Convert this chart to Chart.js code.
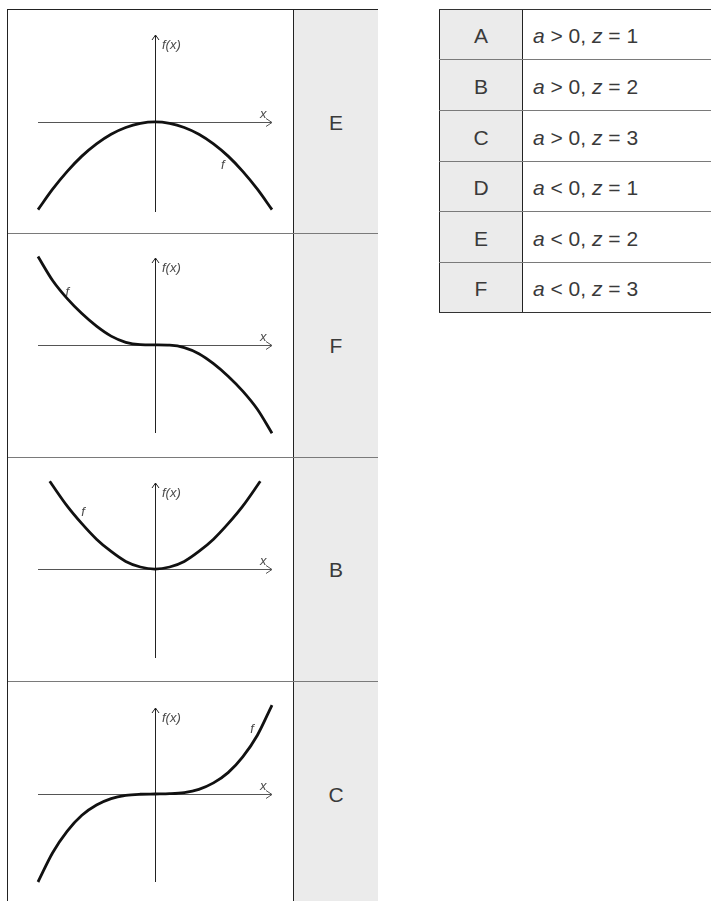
<!DOCTYPE html>
<html>
<head>
<meta charset="utf-8">
<script src="https://cdn.jsdelivr.net/npm/chart.js@4.4.1/dist/chart.umd.min.js"></script>
<style>
  html, body { margin: 0; padding: 0; background: #fff; }
  body { width: 711px; height: 901px; position: relative; overflow: hidden; font-family: "Liberation Sans", Arial, sans-serif; color: #3a3a3a; }
  .abs { position: absolute; }
  #lt { left: 7px; top: 9px; width: 369px; height: 1000px; border: 1px solid #222; }
  #ltGray { left: 293px; top: 10px; width: 84px; height: 900px; background: #ebebeb; border-left: 1px solid #222; }
  .hline { height: 1px; background: #7a7a7a; }
  .letter { font-size: 21px; line-height: 21px; transform: translate(-50%, -50%); white-space: nowrap; }
  #rtGray { left: 439px; top: 9px; width: 82px; height: 303px; background: #ebebeb; border-left: 1px solid #222; border-right: 1px solid #222; }
  .cond { font-size: 21px; line-height: 21px; transform: translateY(-50%); white-space: nowrap; }
  .cond i { font-style: italic; }
  canvas { position: absolute; }
</style>
</head>
<body>
<div id="lt" class="abs"></div>
<div id="ltGray" class="abs"></div>
<div id="rtGray" class="abs"></div>
<div id="layer"></div>

<script>
// Werte (1 Einheit = eine Achseneinteilung von ca. 29 px)
var xFull = [-4, -3.5, -3, -2.5, -2, -1.5, -1, -0.5, 0, 0.5, 1, 1.5, 2, 2.5, 3, 3.5, 4];
var yE = [-3, -2.3, -1.69, -1.17, -0.75, -0.42, -0.19, -0.05, 0, -0.05, -0.19, -0.42, -0.75, -1.17, -1.69, -2.3, -3];
var yF = [3.02, 2.2, 1.58, 1.07, 0.64, 0.3, 0.09, 0.01, 0, -0.01, -0.09, -0.3, -0.64, -1.07, -1.58, -2.2, -3.02];
var xB = [-3.6, -3, -2.5, -2, -1.5, -1, -0.5, 0, 0.5, 1, 1.5, 2, 2.5, 3, 3.6];
var yB = [3.0, 2.15, 1.55, 1.02, 0.6, 0.26, 0.07, 0, 0.07, 0.26, 0.6, 1.02, 1.55, 2.15, 3.0];
var yC = [-3.01, -2.01, -1.27, -0.73, -0.38, -0.16, -0.05, -0.01, 0, 0.01, 0.05, 0.16, 0.38, 0.73, 1.27, 2.01, 3.04];

// Zuordnung Graph -> Buchstabe
var panelLetters = ["E", "F", "B", "C"];
var panelX = [xFull, xFull, xB, xFull];
var panelY = [yE, yF, yB, yC];
// Achsenbereich der y-Achse je Graph
var yMins = [-3.08, -3.01, -3.04, -3.01];
var yMaxs = [2.97, 2.97, 2.94, 2.94];
// Lage der Beschriftung "f" (in Achseneinheiten)
var fLabelX = [2.32, -3.0, -2.46, 3.32];
var fLabelY = [-1.47, 1.81, 1.95, 2.22];

// Tabelle rechts
var rightLetters = ["A", "B", "C", "D", "E", "F"];
var signs = [">", ">", ">", "<", "<", "<"];
var zValues = [1, 2, 3, 1, 2, 3];

// Layout
var rowTops = [10, 234, 458, 682];
var rowLines = [233, 457, 681];
var rowCenters = [122, 345, 569, 794];
var canvasHeights = [222, 222, 222, 219];
var padTops = [25, 24, 25, 26];
var padBottoms = [20, 23, 22, 19];
var rtLines = [9, 59, 110, 161, 211, 262, 312];

var layer = document.getElementById("layer");

function addDiv(cls, css, html) {
    var d = document.createElement("div");
    d.className = "abs " + cls;
    d.style.cssText = css;
    if (html) d.innerHTML = html;
    layer.appendChild(d);
    return d;
}

// Linien der linken Tabelle
rowLines.forEach(function(y) {
    addDiv("hline", "left:8px;top:" + y + "px;width:370px;");
});

// Linien der rechten Tabelle
rtLines.forEach(function(y, i) {
    var col = (i === 0 || i === rtLines.length - 1) ? "#333" : "#7a7a7a";
    addDiv("hline", "left:439px;top:" + y + "px;width:272px;background:" + col + ";");
});

// Buchstaben links
panelLetters.forEach(function(l, i) {
    addDiv("letter", "left:336px;top:" + rowCenters[i] + "px;", l);
});

// rechte Tabelle: Buchstabe und Bedingung
rightLetters.forEach(function(l, i) {
    var cy = (rtLines[i] + rtLines[i + 1]) / 2 + 1;
    addDiv("letter", "left:481px;top:" + cy + "px;", l);
    var txt = "<i>a</i> " + (signs[i] === ">" ? "&gt;" : "&lt;") + " 0, <i>z</i> = " + zValues[i];
    addDiv("cond", "left:533px;top:" + cy + "px;", txt);
});

// Achsen mit Pfeilen und Beschriftungen
var axesPlugin = {
    id: 'axesPlugin',
    beforeDatasetsDraw: function(chart) {
        var ctx = chart.ctx, x = chart.scales.x, y = chart.scales.y;
        var x0 = Math.round(x.getPixelForValue(0)) + 0.5;
        var y0 = Math.round(y.getPixelForValue(0)) + 0.5;
        var left = x.getPixelForValue(x.min), right = x.getPixelForValue(x.max);
        var top = y.getPixelForValue(y.max), bottom = y.getPixelForValue(y.min);
        ctx.save();
        ctx.lineWidth = 1;
        // x-Achse
        ctx.strokeStyle = '#555';
        ctx.beginPath();
        ctx.moveTo(left, y0);
        ctx.lineTo(right, y0);
        ctx.moveTo(right - 6, y0 - 4);
        ctx.lineTo(right, y0);
        ctx.lineTo(right - 6, y0 + 4);
        ctx.stroke();
        // y-Achse
        ctx.strokeStyle = '#222';
        ctx.beginPath();
        ctx.moveTo(x0, bottom);
        ctx.lineTo(x0, top);
        ctx.moveTo(x0 - 3.5, top + 5);
        ctx.lineTo(x0, top);
        ctx.lineTo(x0 + 3.5, top + 5);
        ctx.stroke();
        ctx.restore();
    },
    afterDatasetsDraw: function(chart, args, opts) {
        var ctx = chart.ctx, x = chart.scales.x, y = chart.scales.y;
        var x0 = x.getPixelForValue(0);
        var y0 = y.getPixelForValue(0);
        var right = x.getPixelForValue(x.max);
        var top = y.getPixelForValue(y.max);
        ctx.save();
        ctx.fillStyle = '#4a4a4a';
        ctx.font = 'italic 13px "Liberation Sans", Arial, sans-serif';
        ctx.textBaseline = 'middle';
        ctx.textAlign = 'left';
        ctx.fillText('f(x)', x0 + 7, top + 10);
        ctx.fillText('x', right - 12, y0 - 8);
        ctx.textAlign = 'center';
        ctx.fillText('f', x.getPixelForValue(opts.fx), y.getPixelForValue(opts.fy));
        ctx.restore();
    }
};

panelLetters.forEach(function(l, i) {
    var cv = document.createElement("canvas");
    cv.width = 284;
    cv.height = canvasHeights[i];
    cv.style.left = "8px";
    cv.style.top = rowTops[i] + "px";
    cv.style.width = "284px";
    cv.style.height = canvasHeights[i] + "px";
    layer.appendChild(cv);

    var pts = panelX[i].map(function(v, k) { return {x: v, y: panelY[i][k]}; });

    new Chart(cv.getContext('2d'), {
        type: 'scatter',
        data: {
            datasets: [{
                label: 'f',
                data: pts,
                showLine: true,
                borderColor: '#111',
                borderWidth: 2.8,
                pointRadius: 0,
                cubicInterpolationMode: 'monotone',
                clip: false
            }]
        },
        options: {
            responsive: false,
            animation: false,
            events: [],
            layout: { padding: { left: 30, right: 20, top: padTops[i], bottom: padBottoms[i] } },
            scales: {
                x: { type: 'linear', min: -4, max: 4, display: false },
                y: { type: 'linear', min: yMins[i], max: yMaxs[i], display: false }
            },
            plugins: {
                legend: { display: false },
                tooltip: { enabled: false },
                axesPlugin: { fx: fLabelX[i], fy: fLabelY[i] }
            }
        },
        plugins: [axesPlugin]
    });
});
</script>
</body>
</html>
